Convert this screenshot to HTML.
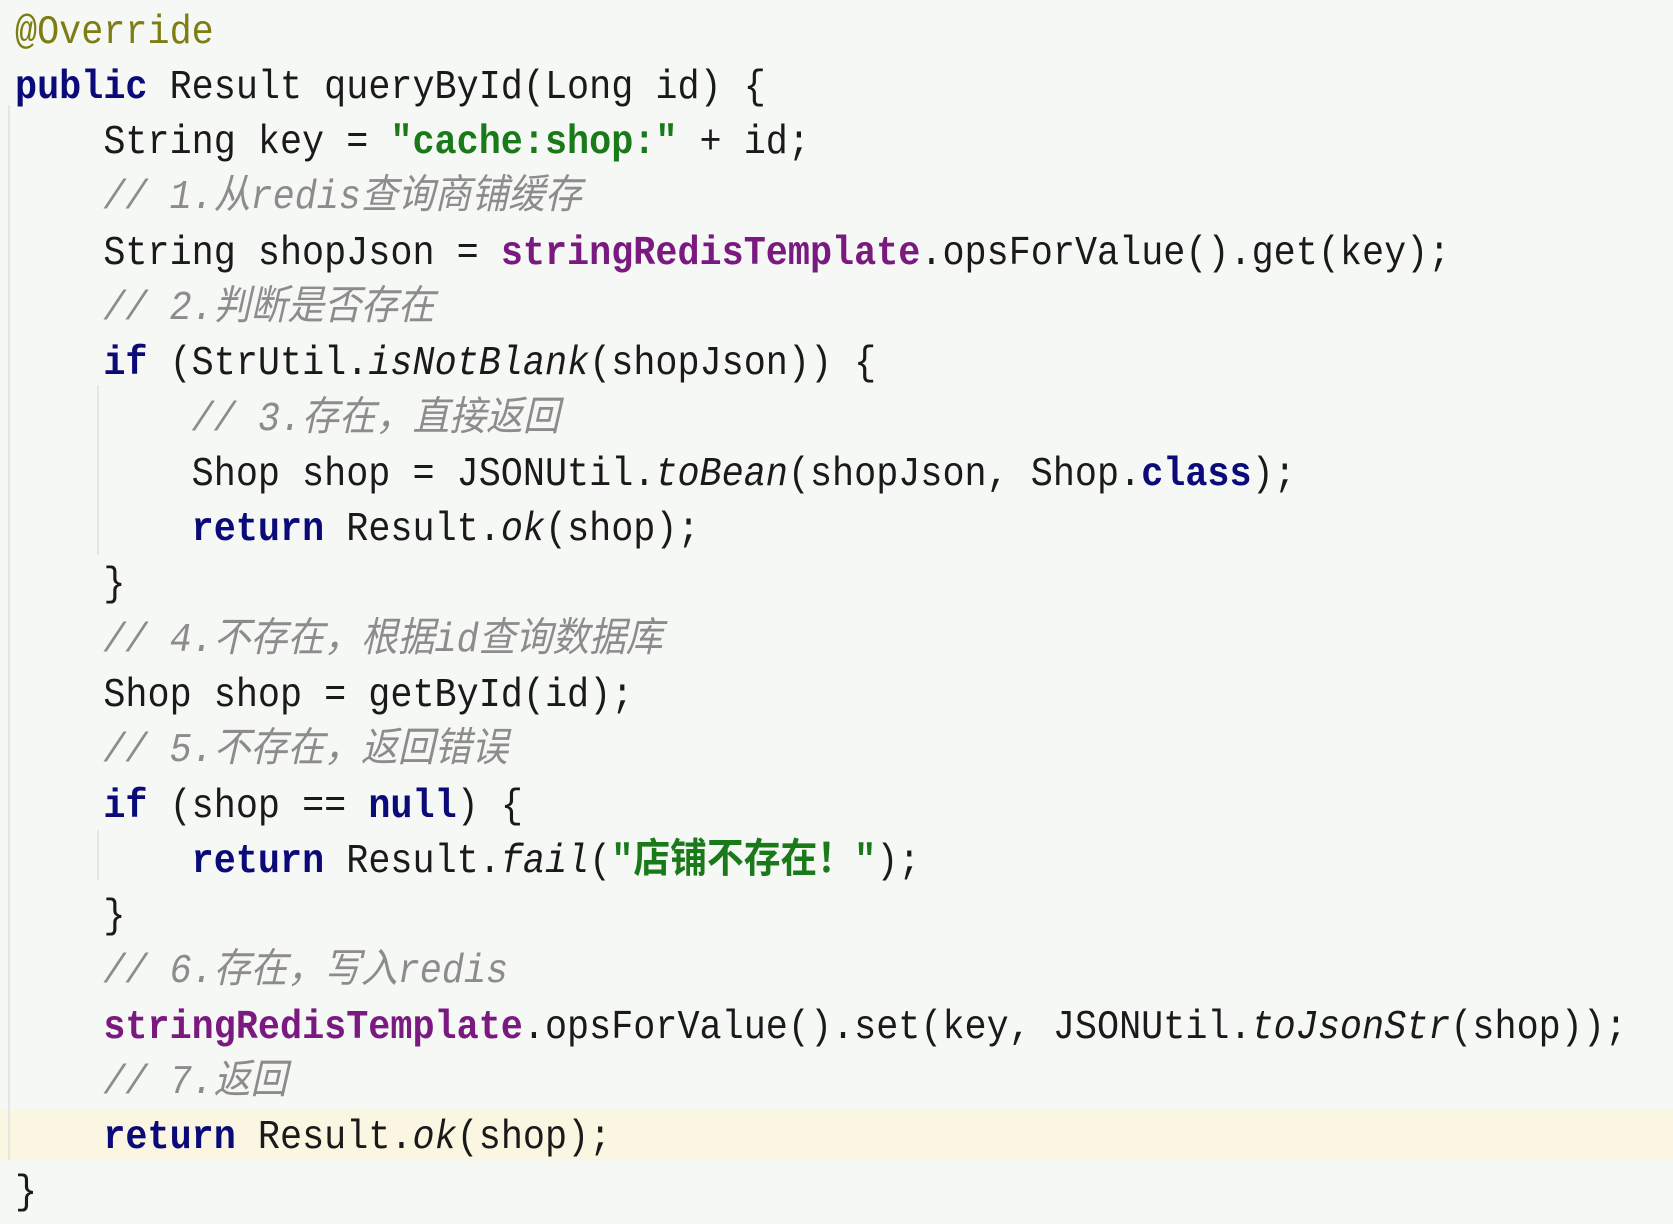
<!DOCTYPE html>
<html><head><meta charset="utf-8"><style>
html,body{margin:0;padding:0}
body{width:1673px;height:1213px;background:#f6f8f5;position:relative;overflow:hidden;
font-family:"Liberation Mono","Noto Sans CJK SC",monospace;font-size:36.8px;color:#1a1a1a}
.l{position:absolute;left:15px;height:55px;line-height:55px;white-space:pre;transform:scaleY(1.1);transform-origin:0 50%;margin-top:3px}
.k{color:#0a0a78;font-weight:bold}
.s{color:#1a7a1a;font-weight:bold}
.f{color:#7a1a80;font-weight:bold}
.c{color:#8c8c8c;font-style:italic}
.a{color:#7d7d14}
.i{font-style:italic}
.g{position:absolute;width:2px;background:#e4e6e3}
</style></head><body>
<div style="position:absolute;left:0;top:1110px;width:1673px;height:50px;background:#fbf6e2"></div>
<div class="g" style="left:8px;top:105px;height:1055px"></div>
<div class="g" style="left:97px;top:385px;height:170px"></div>
<div class="g" style="left:97px;top:830px;height:50px"></div>
<div class="l" style="top:3px"><span class="a">@Override</span></div>
<div class="l" style="top:58px"><span class="k">public</span> Result queryById(Long id) {</div>
<div class="l" style="top:113px">    String key = <span class="s">"cache:shop:"</span> + id;</div>
<div class="l" style="top:168px"><span class="c">    // 1.从redis查询商铺缓存</span></div>
<div class="l" style="top:224px">    String shopJson = <span class="f">stringRedisTemplate</span>.opsForValue().get(key);</div>
<div class="l" style="top:279px"><span class="c">    // 2.判断是否存在</span></div>
<div class="l" style="top:334px">    <span class="k">if</span> (StrUtil.<span class="i">isNotBlank</span>(shopJson)) {</div>
<div class="l" style="top:390px"><span class="c">        // 3.存在，直接返回</span></div>
<div class="l" style="top:445px">        Shop shop = JSONUtil.<span class="i">toBean</span>(shopJson, Shop.<span class="k">class</span>);</div>
<div class="l" style="top:500px">        <span class="k">return</span> Result.<span class="i">ok</span>(shop);</div>
<div class="l" style="top:555px">    }</div>
<div class="l" style="top:611px"><span class="c">    // 4.不存在，根据id查询数据库</span></div>
<div class="l" style="top:666px">    Shop shop = getById(id);</div>
<div class="l" style="top:721px"><span class="c">    // 5.不存在，返回错误</span></div>
<div class="l" style="top:777px">    <span class="k">if</span> (shop == <span class="k">null</span>) {</div>
<div class="l" style="top:832px">        <span class="k">return</span> Result.<span class="i">fail</span>(<span class="s">"店铺不存在！"</span>);</div>
<div class="l" style="top:887px">    }</div>
<div class="l" style="top:942px"><span class="c">    // 6.存在，写入redis</span></div>
<div class="l" style="top:998px">    <span class="f">stringRedisTemplate</span>.opsForValue().set(key, JSONUtil.<span class="i">toJsonStr</span>(shop));</div>
<div class="l" style="top:1053px"><span class="c">    // 7.返回</span></div>
<div class="l" style="top:1108px">    <span class="k">return</span> Result.<span class="i">ok</span>(shop);</div>
<div class="l" style="top:1163px">}</div>
</body></html>
